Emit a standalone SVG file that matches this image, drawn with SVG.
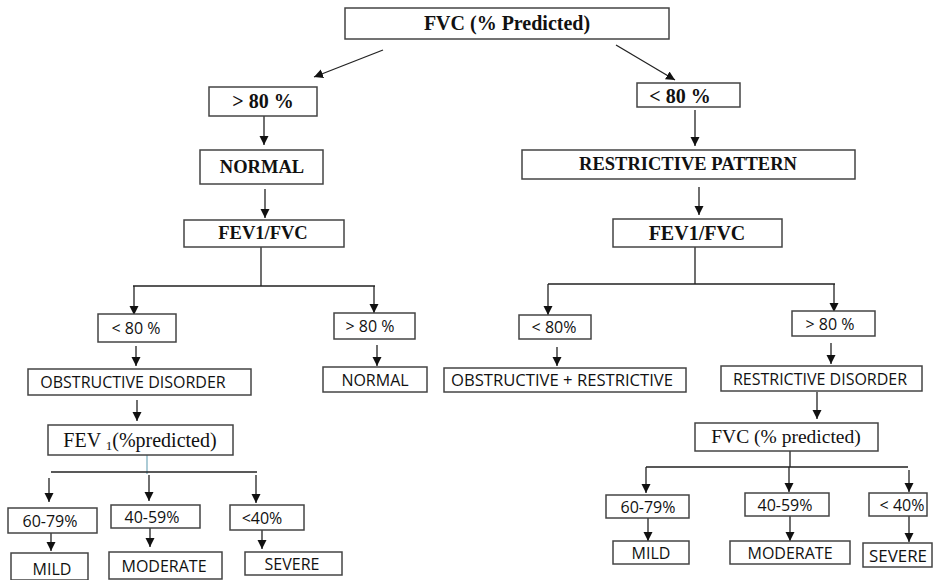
<svg xmlns="http://www.w3.org/2000/svg" width="938" height="580" viewBox="0 0 938 580">
<defs>
<marker id="ah" markerUnits="userSpaceOnUse" markerWidth="10" markerHeight="10" refX="9" refY="4.5" orient="auto"><path d="M0,0 L9,4.5 L0,9 z" fill="#111"/></marker>
<style>
rect{fill:#fff;stroke:#444;stroke-width:1.5}
.b{font-family:"Liberation Serif",serif;font-weight:bold;fill:#111;text-anchor:middle}
.r{font-family:"Liberation Serif",serif;fill:#111;text-anchor:middle}
.s{font-family:"Open Sans","Liberation Sans",sans-serif;fill:#111;text-anchor:middle;font-size:16px}
.c line,.c path{stroke:#222;stroke-width:1.3;fill:none}
.a{marker-end:url(#ah)}
</style>
</defs>
<rect x="0" y="0" width="938" height="580" style="fill:#fff;stroke:none"/>
<g class="c">
<line class="a" x1="383" y1="50" x2="314" y2="77"/>
<line class="a" x1="616" y1="45" x2="675" y2="80"/>
<line class="a" x1="264" y1="116" x2="264" y2="145"/>
<line class="a" x1="695" y1="110" x2="695" y2="146"/>
<line class="a" x1="265" y1="189" x2="265" y2="218"/>
<line class="a" x1="699" y1="187" x2="699" y2="215"/>
<path d="M261,247 V286 M133,286 H375"/>
<line class="a" x1="134" y1="286" x2="134" y2="315"/>
<line class="a" x1="374" y1="286" x2="374" y2="313"/>
<path d="M695,247 V284 M548,284 H835"/>
<line class="a" x1="548" y1="284" x2="548" y2="315"/>
<line class="a" x1="834" y1="284" x2="834" y2="312"/>
<line class="a" x1="136" y1="346" x2="136" y2="366"/>
<line class="a" x1="377" y1="345" x2="377" y2="366"/>
<line class="a" x1="557" y1="347" x2="557" y2="366"/>
<line class="a" x1="831" y1="343" x2="831" y2="364"/>
<line class="a" x1="137" y1="400" x2="137" y2="421"/>
<line class="a" x1="817" y1="392" x2="817" y2="419"/>
<path d="M147,455 V474" style="stroke:#7fb0c0"/>
<path d="M51,472 H257"/>
<line class="a" x1="49" y1="478" x2="49" y2="502"/>
<line class="a" x1="149" y1="475" x2="149" y2="501"/>
<line class="a" x1="256" y1="475" x2="256" y2="503"/>
<line class="a" x1="51" y1="533" x2="51" y2="551"/>
<line class="a" x1="150" y1="528" x2="150" y2="547"/>
<line class="a" x1="262" y1="530" x2="262" y2="549"/>
<path d="M790,451 V467 M646,467 H908"/>
<line class="a" x1="646" y1="467" x2="646" y2="493"/>
<line class="a" x1="789" y1="467" x2="789" y2="492"/>
<line class="a" x1="909" y1="470" x2="909" y2="492"/>
<line class="a" x1="648" y1="518" x2="648" y2="541"/>
<line class="a" x1="790" y1="516" x2="790" y2="541"/>
<line class="a" x1="909" y1="516" x2="909" y2="542"/>
</g>
<g id="n-root"><rect x="345" y="8" width="324" height="31"/><text class="b" x="507" y="30" font-size="20">FVC (% Predicted)</text></g>
<g id="n-gt80"><rect x="209" y="87" width="108" height="29"/><text class="b" x="263" y="108" font-size="20">&gt; 80 %</text></g>
<g id="n-lt80"><rect x="637" y="83" width="103" height="24"/><text class="b" x="680" y="103" font-size="20">&lt; 80 %</text></g>
<g id="n-normal1"><rect x="200" y="150" width="123" height="34"/><text class="b" x="262" y="173" font-size="18.5">NORMAL</text></g>
<g id="n-restrictive"><rect x="522" y="150" width="333" height="29"/><text class="b" x="688" y="170" font-size="18.5">RESTRICTIVE PATTERN</text></g>
<g id="n-ratio1"><rect x="184" y="220" width="160" height="27"/><text class="b" x="263" y="239" font-size="18.5">FEV1/FVC</text></g>
<g id="n-ratio2"><rect x="613" y="219" width="169" height="28"/><text class="b" x="697" y="240" font-size="20">FEV1/FVC</text></g>
<g id="n-l-lt80"><rect x="98" y="314" width="78" height="28"/><text class="s" x="136" y="334">&lt; 80 %</text></g>
<g id="n-l-gt80"><rect x="334" y="313" width="81" height="26"/><text class="s" x="370" y="332">&gt; 80 %</text></g>
<g id="n-r-lt80"><rect x="519" y="315" width="72" height="24"/><text class="s" x="554" y="333">&lt; 80%</text></g>
<g id="n-r-gt80"><rect x="792" y="311" width="83" height="25"/><text class="s" x="830" y="330">&gt; 80 %</text></g>
<g id="n-obs"><rect x="28" y="369" width="223" height="26"/><text class="s" x="133" y="388">OBSTRUCTIVE DISORDER</text></g>
<g id="n-normal2"><rect x="323" y="367" width="104" height="25"/><text class="s" x="375" y="386">NORMAL</text></g>
<g id="n-obsres"><rect x="444" y="368" width="242" height="24"/><text class="s" x="562" y="386" textLength="222" lengthAdjust="spacingAndGlyphs">OBSTRUCTIVE + RESTRICTIVE</text></g>
<g id="n-resdis"><rect x="721" y="366" width="201" height="25"/><text class="s" x="820" y="385">RESTRICTIVE DISORDER</text></g>
<g id="n-fev1"><rect x="48" y="425" width="185" height="30"/><text class="r" x="140" y="447" font-size="20">FEV <tspan font-size="13" dy="3">1</tspan><tspan dy="-3">(%predicted)</tspan></text></g>
<g id="n-fvcp"><rect x="695" y="423" width="183" height="28"/><text class="r" x="786" y="443" font-size="19.5">FVC (% predicted)</text></g>
<g id="n-l-6079"><rect x="8" y="508" width="89" height="25"/><text class="s" x="50" y="527">60-79%</text></g>
<g id="n-l-4059"><rect x="111" y="505" width="89" height="23"/><text class="s" x="152" y="523">40-59%</text></g>
<g id="n-l-lt40"><rect x="230" y="505" width="74" height="25"/><text class="s" x="262" y="524">&lt;40%</text></g>
<g id="n-l-mild"><rect x="11" y="553" width="77" height="27"/><text class="s" x="52" y="575">MILD</text></g>
<g id="n-l-mod"><rect x="109" y="552" width="113" height="27"/><text class="s" x="164" y="572">MODERATE</text></g>
<g id="n-l-sev"><rect x="245" y="552" width="97" height="23"/><text class="s" x="292" y="570">SEVERE</text></g>
<g id="n-r-6079"><rect x="606" y="495" width="83" height="23"/><text class="s" x="648" y="513">60-79%</text></g>
<g id="n-r-4059"><rect x="745" y="493" width="84" height="23"/><text class="s" x="785" y="511">40-59%</text></g>
<g id="n-r-lt40"><rect x="869" y="493" width="58" height="23"/><text class="s" x="902" y="511">&lt; 40%</text></g>
<g id="n-r-mild"><rect x="613" y="541" width="76" height="23"/><text class="s" x="651" y="559">MILD</text></g>
<g id="n-r-mod"><rect x="730" y="541" width="120" height="23"/><text class="s" x="790" y="559">MODERATE</text></g>
<g id="n-r-sev"><rect x="863" y="543" width="69" height="24"/><text class="s" x="898" y="562" textLength="58" lengthAdjust="spacingAndGlyphs">SEVERE</text></g>
</svg>
